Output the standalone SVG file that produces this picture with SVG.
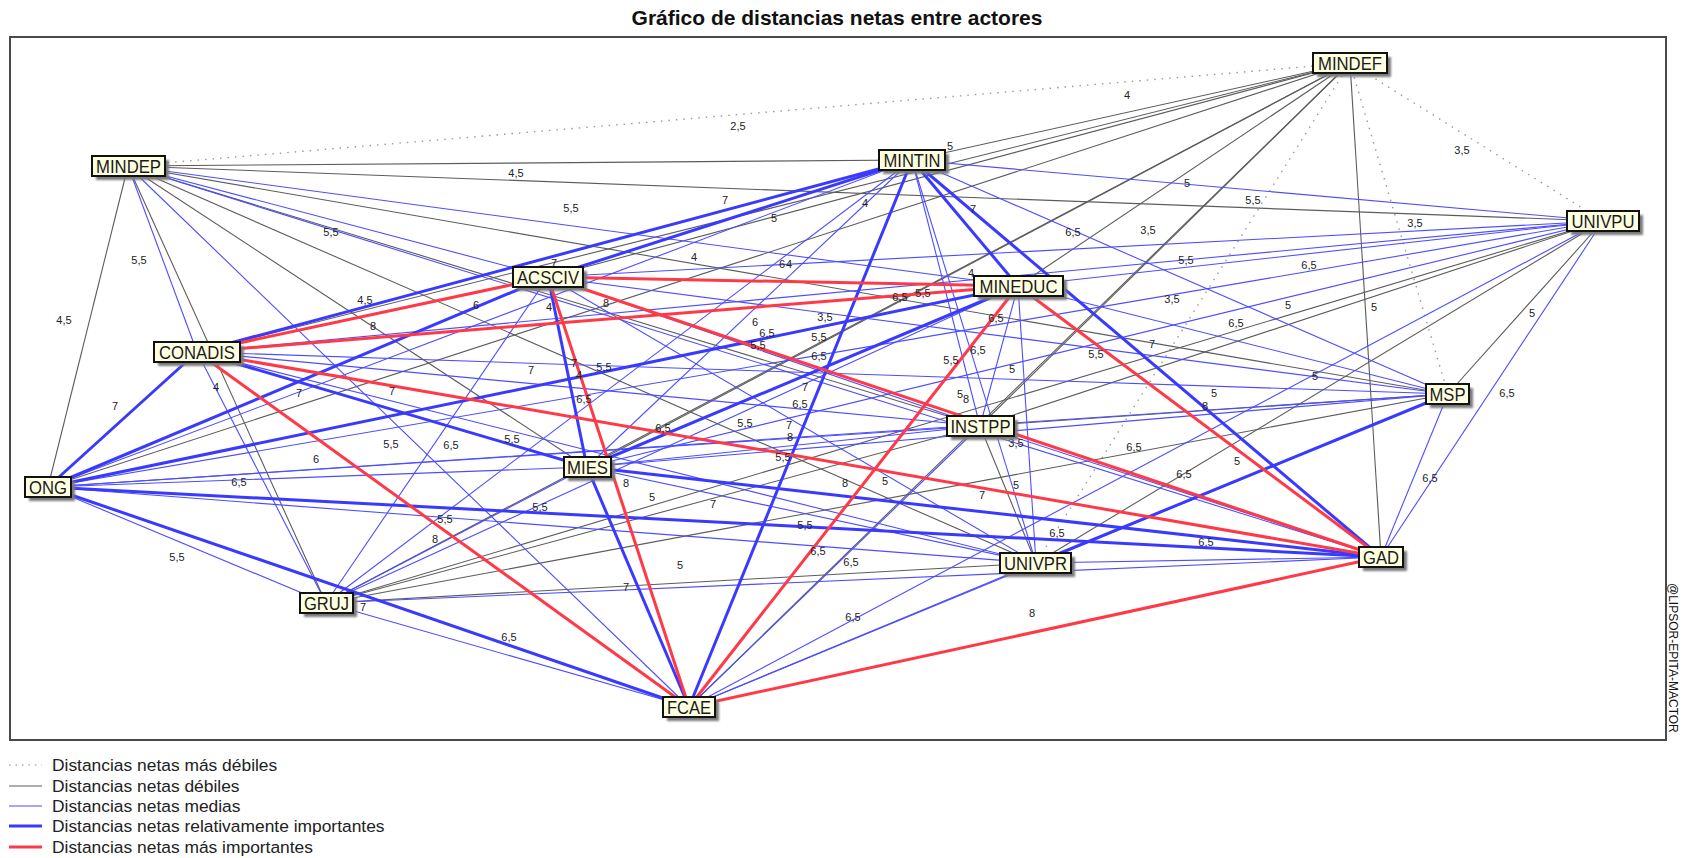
<svg xmlns="http://www.w3.org/2000/svg" width="1685" height="858" viewBox="0 0 1685 858">
<defs>
<filter id="sh" x="-20%" y="-20%" width="140%" height="160%"><feGaussianBlur stdDeviation="1.2"/></filter>
<style>
.d{stroke:#9a9a9a;stroke-width:1.4;stroke-dasharray:1.5 6;fill:none}
.g{stroke:#5c5c5c;stroke-width:1.1}
.b{stroke:#4d4dff;stroke-width:1.1}
.t{stroke:#3a3aff;stroke-width:3}
.r{stroke:#ff3a48;stroke-width:3}
.lb{font-family:"Liberation Sans",Arial,sans-serif;font-size:11px;fill:#222;text-anchor:middle}
.box{fill:#ffffe1;stroke:#111;stroke-width:2}
.shd{fill:#7a7a7a;filter:url(#sh)}
.nt{font-family:"Liberation Sans",Arial,sans-serif;font-size:19px;fill:#1a1a1a;text-anchor:middle}
.lg{font-family:"Liberation Sans",Arial,sans-serif;font-size:17.4px;fill:#222}
</style>
</defs>
<rect width="1685" height="858" fill="#fff"/>
<text x="837" y="25" font-family="Liberation Sans,Arial,sans-serif" font-size="21" font-weight="bold" fill="#111" text-anchor="middle">Gráfico de distancias netas entre actores</text>
<rect x="10" y="37" width="1656" height="703" fill="none" stroke="#4a4a4a" stroke-width="2"/>
<text transform="translate(1669,583) rotate(90)" font-family="Liberation Sans,Arial,sans-serif" font-size="12" fill="#111">@LIPSOR-EPITA-MACTOR</text>

<g id="connectors">
<g class="d">
<line x1="1350" y1="63" x2="1603" y2="221"/>
<line x1="1350" y1="63" x2="128" y2="166"/>
<line x1="1350" y1="63" x2="1036" y2="563"/>
<line x1="1350" y1="63" x2="1448" y2="394"/>
</g>
<g class="g">
<line x1="1350" y1="63" x2="912" y2="160"/>
<line x1="1350" y1="63" x2="548" y2="277"/>
<line x1="1350" y1="63" x2="1018" y2="286"/>
<line x1="1350" y1="63" x2="197" y2="352"/>
<line x1="1350" y1="63" x2="48" y2="487"/>
<line x1="1350" y1="63" x2="587" y2="467"/>
<line x1="1350" y1="63" x2="980" y2="426"/>
<line x1="1350" y1="63" x2="1381" y2="557"/>
<line x1="1350" y1="63" x2="326" y2="603"/>
<line x1="1350" y1="63" x2="689" y2="707"/>
<line x1="1603" y1="221" x2="128" y2="166"/>
<line x1="1603" y1="221" x2="980" y2="426"/>
<line x1="1603" y1="221" x2="1036" y2="563"/>
<line x1="1603" y1="221" x2="1448" y2="394"/>
<line x1="1603" y1="221" x2="326" y2="603"/>
<line x1="128" y1="166" x2="912" y2="160"/>
<line x1="128" y1="166" x2="48" y2="487"/>
<line x1="128" y1="166" x2="587" y2="467"/>
<line x1="128" y1="166" x2="980" y2="426"/>
<line x1="128" y1="166" x2="1036" y2="563"/>
<line x1="128" y1="166" x2="1448" y2="394"/>
<line x1="128" y1="166" x2="326" y2="603"/>
<line x1="980" y1="426" x2="1036" y2="563"/>
<line x1="980" y1="426" x2="1448" y2="394"/>
<line x1="980" y1="426" x2="326" y2="603"/>
<line x1="1036" y1="563" x2="326" y2="603"/>
<line x1="1448" y1="394" x2="326" y2="603"/>
</g>
<g class="b">
<line x1="1603" y1="221" x2="912" y2="160"/>
<line x1="1603" y1="221" x2="548" y2="277"/>
<line x1="1603" y1="221" x2="1018" y2="286"/>
<line x1="1603" y1="221" x2="197" y2="352"/>
<line x1="1603" y1="221" x2="48" y2="487"/>
<line x1="1603" y1="221" x2="587" y2="467"/>
<line x1="1603" y1="221" x2="1381" y2="557"/>
<line x1="1603" y1="221" x2="689" y2="707"/>
<line x1="128" y1="166" x2="548" y2="277"/>
<line x1="128" y1="166" x2="1018" y2="286"/>
<line x1="128" y1="166" x2="197" y2="352"/>
<line x1="128" y1="166" x2="1381" y2="557"/>
<line x1="128" y1="166" x2="689" y2="707"/>
<line x1="912" y1="160" x2="48" y2="487"/>
<line x1="912" y1="160" x2="587" y2="467"/>
<line x1="912" y1="160" x2="980" y2="426"/>
<line x1="912" y1="160" x2="1036" y2="563"/>
<line x1="912" y1="160" x2="1448" y2="394"/>
<line x1="912" y1="160" x2="326" y2="603"/>
<line x1="548" y1="277" x2="980" y2="426"/>
<line x1="548" y1="277" x2="1036" y2="563"/>
<line x1="548" y1="277" x2="1448" y2="394"/>
<line x1="548" y1="277" x2="326" y2="603"/>
<line x1="1018" y1="286" x2="980" y2="426"/>
<line x1="1018" y1="286" x2="1036" y2="563"/>
<line x1="1018" y1="286" x2="1448" y2="394"/>
<line x1="1018" y1="286" x2="326" y2="603"/>
<line x1="197" y1="352" x2="980" y2="426"/>
<line x1="197" y1="352" x2="1036" y2="563"/>
<line x1="197" y1="352" x2="1448" y2="394"/>
<line x1="197" y1="352" x2="326" y2="603"/>
<line x1="48" y1="487" x2="587" y2="467"/>
<line x1="48" y1="487" x2="980" y2="426"/>
<line x1="48" y1="487" x2="1036" y2="563"/>
<line x1="48" y1="487" x2="1448" y2="394"/>
<line x1="48" y1="487" x2="326" y2="603"/>
<line x1="587" y1="467" x2="980" y2="426"/>
<line x1="587" y1="467" x2="1036" y2="563"/>
<line x1="587" y1="467" x2="1448" y2="394"/>
<line x1="587" y1="467" x2="326" y2="603"/>
<line x1="980" y1="426" x2="1381" y2="557"/>
<line x1="980" y1="426" x2="689" y2="707"/>
<line x1="1036" y1="563" x2="1381" y2="557"/>
<line x1="1036" y1="563" x2="689" y2="707"/>
<line x1="1448" y1="394" x2="1381" y2="557"/>
<line x1="1448" y1="394" x2="689" y2="707"/>
<line x1="1381" y1="557" x2="326" y2="603"/>
<line x1="326" y1="603" x2="689" y2="707"/>
</g>
<g class="t">
<line x1="912" y1="160" x2="548" y2="277"/>
<line x1="912" y1="160" x2="1018" y2="286"/>
<line x1="912" y1="160" x2="197" y2="352"/>
<line x1="912" y1="160" x2="1381" y2="557"/>
<line x1="912" y1="160" x2="689" y2="707"/>
<line x1="548" y1="277" x2="48" y2="487"/>
<line x1="548" y1="277" x2="587" y2="467"/>
<line x1="1018" y1="286" x2="48" y2="487"/>
<line x1="1018" y1="286" x2="587" y2="467"/>
<line x1="197" y1="352" x2="48" y2="487"/>
<line x1="197" y1="352" x2="587" y2="467"/>
<line x1="48" y1="487" x2="1381" y2="557"/>
<line x1="48" y1="487" x2="689" y2="707"/>
<line x1="587" y1="467" x2="1381" y2="557"/>
<line x1="587" y1="467" x2="689" y2="707"/>
<line x1="1036" y1="563" x2="1448" y2="394"/>
</g>
<g class="r">
<line x1="548" y1="277" x2="1018" y2="286"/>
<line x1="548" y1="277" x2="197" y2="352"/>
<line x1="548" y1="277" x2="1381" y2="557"/>
<line x1="548" y1="277" x2="689" y2="707"/>
<line x1="1018" y1="286" x2="197" y2="352"/>
<line x1="1018" y1="286" x2="1381" y2="557"/>
<line x1="1018" y1="286" x2="689" y2="707"/>
<line x1="197" y1="352" x2="1381" y2="557"/>
<line x1="197" y1="352" x2="689" y2="707"/>
<line x1="1381" y1="557" x2="689" y2="707"/>
</g>
</g>

<g id="edge-labels" class="lb">
<text x="516" y="177">4,5</text>
<text x="571" y="212">5,5</text>
<text x="331" y="236">5,5</text>
<text x="139" y="264">5,5</text>
<text x="365" y="304">4,5</text>
<text x="738" y="130">2,5</text>
<text x="1127" y="99">4</text>
<text x="725" y="204">7</text>
<text x="774" y="222">5</text>
<text x="865" y="207">4</text>
<text x="973" y="213">7</text>
<text x="1073" y="236">6,5</text>
<text x="694" y="261">4</text>
<text x="782" y="268">6</text>
<text x="789" y="268">4</text>
<text x="971" y="277">4</text>
<text x="900" y="301">6,5</text>
<text x="923" y="297">5,5</text>
<text x="950" y="150">5</text>
<text x="554" y="267">7</text>
<text x="1462" y="154">3,5</text>
<text x="1187" y="187">5</text>
<text x="1253" y="204">5,5</text>
<text x="1415" y="227">3,5</text>
<text x="1148" y="234">3,5</text>
<text x="1186" y="264">5,5</text>
<text x="1309" y="269">6,5</text>
<text x="1172" y="303">3,5</text>
<text x="64" y="324">4,5</text>
<text x="476" y="309">6</text>
<text x="549" y="311">4</text>
<text x="373" y="330">8</text>
<text x="115" y="410">7</text>
<text x="216" y="391">4</text>
<text x="299" y="397">7</text>
<text x="392" y="395">7</text>
<text x="531" y="374">7</text>
<text x="391" y="448">5,5</text>
<text x="451" y="449">6,5</text>
<text x="512" y="443">5,5</text>
<text x="316" y="463">6</text>
<text x="239" y="486">6,5</text>
<text x="540" y="511">5,5</text>
<text x="445" y="523">5,5</text>
<text x="435" y="543">8</text>
<text x="177" y="561">5,5</text>
<text x="606" y="307">8</text>
<text x="755" y="326">6</text>
<text x="825" y="321">3,5</text>
<text x="767" y="337">6,5</text>
<text x="758" y="349">5,5</text>
<text x="819" y="341">5,5</text>
<text x="819" y="360">6,5</text>
<text x="996" y="322">6,5</text>
<text x="978" y="354">6,5</text>
<text x="951" y="364">5,5</text>
<text x="1012" y="373">5</text>
<text x="1096" y="358">5,5</text>
<text x="574" y="367">7</text>
<text x="579" y="379">4</text>
<text x="604" y="371">5,5</text>
<text x="584" y="403">6,5</text>
<text x="805" y="391">7</text>
<text x="800" y="408">6,5</text>
<text x="960" y="398">5</text>
<text x="966" y="403">8</text>
<text x="663" y="432">6,5</text>
<text x="745" y="427">5,5</text>
<text x="789" y="429">7</text>
<text x="790" y="441">8</text>
<text x="783" y="461">5,5</text>
<text x="1016" y="447">3,5</text>
<text x="626" y="487">8</text>
<text x="652" y="501">5</text>
<text x="713" y="508">7</text>
<text x="845" y="487">8</text>
<text x="885" y="485">5</text>
<text x="982" y="499">7</text>
<text x="1016" y="489">5</text>
<text x="805" y="529">5,5</text>
<text x="1057" y="537">6,5</text>
<text x="818" y="555">6,5</text>
<text x="851" y="566">6,5</text>
<text x="680" y="569">5</text>
<text x="1288" y="309">5</text>
<text x="1532" y="317">5</text>
<text x="1236" y="327">6,5</text>
<text x="1152" y="348">7</text>
<text x="1315" y="380">5</text>
<text x="1214" y="397">5</text>
<text x="1205" y="410">8</text>
<text x="1507" y="397">6,5</text>
<text x="1134" y="451">6,5</text>
<text x="1237" y="465">5</text>
<text x="1184" y="478">6,5</text>
<text x="1430" y="482">6,5</text>
<text x="1206" y="546">6,5</text>
<text x="363" y="611">7</text>
<text x="509" y="641">6,5</text>
<text x="626" y="591">7</text>
<text x="853" y="621">6,5</text>
<text x="1032" y="617">8</text>
<text x="1374" y="311">5</text>
</g>

<g id="node-MINDEF"><rect class="shd" x="1317" y="57" width="74" height="20"/><rect class="box" x="1313" y="53" width="74" height="20"/><text class="nt" x="1350" y="69.5" textLength="64" lengthAdjust="spacingAndGlyphs">MINDEF</text></g>
<g id="node-UNIVPU"><rect class="shd" x="1571" y="215" width="72" height="20"/><rect class="box" x="1567" y="211" width="72" height="20"/><text class="nt" x="1603" y="227.5" textLength="63" lengthAdjust="spacingAndGlyphs">UNIVPU</text></g>
<g id="node-MINDEP"><rect class="shd" x="96" y="160" width="73" height="20"/><rect class="box" x="92" y="156" width="73" height="20"/><text class="nt" x="128.5" y="172.5" textLength="65" lengthAdjust="spacingAndGlyphs">MINDEP</text></g>
<g id="node-MINTIN"><rect class="shd" x="883" y="154" width="66" height="20"/><rect class="box" x="879" y="150" width="66" height="20"/><text class="nt" x="912" y="166.5" textLength="57" lengthAdjust="spacingAndGlyphs">MINTIN</text></g>
<g id="node-ACSCIV"><rect class="shd" x="517" y="271" width="70" height="20"/><rect class="box" x="513" y="267" width="70" height="20"/><text class="nt" x="548" y="283.5" textLength="62" lengthAdjust="spacingAndGlyphs">ACSCIV</text></g>
<g id="node-MINEDUC"><rect class="shd" x="978" y="280" width="89" height="20"/><rect class="box" x="974" y="276" width="89" height="20"/><text class="nt" x="1018.5" y="292.5" textLength="78" lengthAdjust="spacingAndGlyphs">MINEDUC</text></g>
<g id="node-CONADIS"><rect class="shd" x="158" y="346" width="86" height="20"/><rect class="box" x="154" y="342" width="86" height="20"/><text class="nt" x="197" y="358.5" textLength="76" lengthAdjust="spacingAndGlyphs">CONADIS</text></g>
<g id="node-ONG"><rect class="shd" x="29" y="481" width="46" height="20"/><rect class="box" x="25" y="477" width="46" height="20"/><text class="nt" x="48" y="493.5" textLength="38" lengthAdjust="spacingAndGlyphs">ONG</text></g>
<g id="node-MIES"><rect class="shd" x="568" y="461" width="47" height="20"/><rect class="box" x="564" y="457" width="47" height="20"/><text class="nt" x="587.5" y="473.5" textLength="41" lengthAdjust="spacingAndGlyphs">MIES</text></g>
<g id="node-INSTPP"><rect class="shd" x="951" y="420" width="67" height="20"/><rect class="box" x="947" y="416" width="67" height="20"/><text class="nt" x="980.5" y="432.5" textLength="60" lengthAdjust="spacingAndGlyphs">INSTPP</text></g>
<g id="node-UNIVPR"><rect class="shd" x="1004" y="557" width="71" height="20"/><rect class="box" x="1000" y="553" width="71" height="20"/><text class="nt" x="1035.5" y="569.5" textLength="63" lengthAdjust="spacingAndGlyphs">UNIVPR</text></g>
<g id="node-MSP"><rect class="shd" x="1430" y="388" width="43" height="20"/><rect class="box" x="1426" y="384" width="43" height="20"/><text class="nt" x="1447.5" y="400.5" textLength="36" lengthAdjust="spacingAndGlyphs">MSP</text></g>
<g id="node-GAD"><rect class="shd" x="1363" y="551" width="44" height="20"/><rect class="box" x="1359" y="547" width="44" height="20"/><text class="nt" x="1381" y="563.5" textLength="36" lengthAdjust="spacingAndGlyphs">GAD</text></g>
<g id="node-GRUJ"><rect class="shd" x="304" y="597" width="53" height="20"/><rect class="box" x="300" y="593" width="53" height="20"/><text class="nt" x="326.5" y="609.5" textLength="45" lengthAdjust="spacingAndGlyphs">GRUJ</text></g>
<g id="node-FCAE"><rect class="shd" x="667" y="701" width="52" height="20"/><rect class="box" x="663" y="697" width="52" height="20"/><text class="nt" x="689" y="713.5" textLength="44" lengthAdjust="spacingAndGlyphs">FCAE</text></g>

<g id="legend">
<line x1="9" y1="765" x2="42" y2="765" stroke="#b0b0b0" stroke-width="1.3" stroke-dasharray="1.5 5"/>
<line x1="9" y1="786" x2="42" y2="786" class="g"/>
<line x1="9" y1="806" x2="42" y2="806" class="b"/>
<line x1="9" y1="826" x2="42" y2="826" class="t"/>
<line x1="9" y1="847" x2="42" y2="847" class="r"/>
<text class="lg" x="52" y="771">Distancias netas más débiles</text>
<text class="lg" x="52" y="792">Distancias netas débiles</text>
<text class="lg" x="52" y="812">Distancias netas medias</text>
<text class="lg" x="52" y="832">Distancias netas relativamente importantes</text>
<text class="lg" x="52" y="853">Distancias netas más importantes</text>
</g>
</svg>
